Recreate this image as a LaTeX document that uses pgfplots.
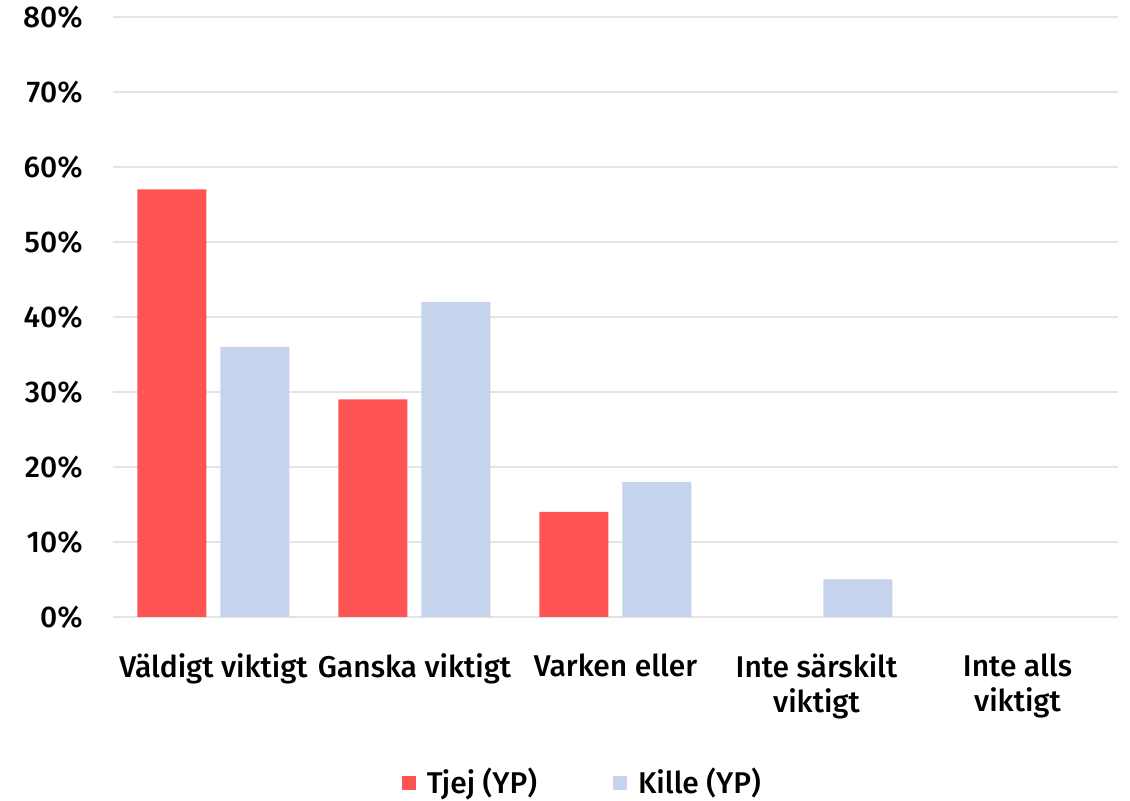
\documentclass[border=0pt]{standalone}
\usepackage{pgfplots}
\pgfplotsset{compat=1.18}
\usepackage{fontspec}
\setmainfont{Fira Sans}[UprightFont=* Medium]
\definecolor{tjej}{RGB}{255,84,84}
\definecolor{kille}{RGB}{197,212,236}
\definecolor{gridgrey}{RGB}{228,228,228}

\begin{document}
\fontsize{15}{18}\selectfont
\begin{tikzpicture}
\path[use as bounding box] (-56.5pt,-92pt) rectangle (508.5pt,308.5pt);
\begin{axis}[
    at={(0,0)}, anchor=south west,
    scale only axis,
    width=502.5pt, height=300pt,
    ybar=7pt, bar width=34.5pt,
    xmin=-0.5, xmax=4.5,
    ymin=0, ymax=80,
    xtick={0,...,4},
    xticklabels={Väldigt viktigt, Ganska viktigt, Varken eller, Inte särskilt\\viktigt, Inte alls\\viktigt},
    xticklabel style={align=center, yshift=-13pt, font=\fontsize{15}{17.5}\selectfont},
    ytick={0,10,...,80},
    yticklabel={\pgfmathprintnumber{\tick}\%},
    yticklabel style={anchor=east, xshift=-10pt},
    /pgf/number format/assume math mode=true,
    major tick length=0pt,
    tick style={draw=none},
    axis line style={draw=none},
    ymajorgrids,
    grid style={gridgrey, line width=0.8pt},
    legend style={at={(0.4680,-0.2767)}, anchor=center, draw=none,
        legend columns=2,
        /tikz/every odd column/.append style={column sep=3.5pt},
        /tikz/every even column/.append style={column sep=36pt},
        font=\fontsize{15}{18}\selectfont},
    legend image code/.code={\fill[#1] (0pt,-3.5pt) rectangle (7pt,3.5pt);},
    y filter/.expression={y==0 ? nan : y},
]
\addplot[fill=tjej, draw=none] coordinates {(0,57) (1,29) (2,14) (3,0) (4,0)};
\addlegendentry{Tjej (YP)}
\addplot[fill=kille, draw=none] coordinates {(0,36) (1,42) (2,18) (3,5) (4,0)};
\addlegendentry{Kille (YP)}
\end{axis}
\end{tikzpicture}
\end{document}
